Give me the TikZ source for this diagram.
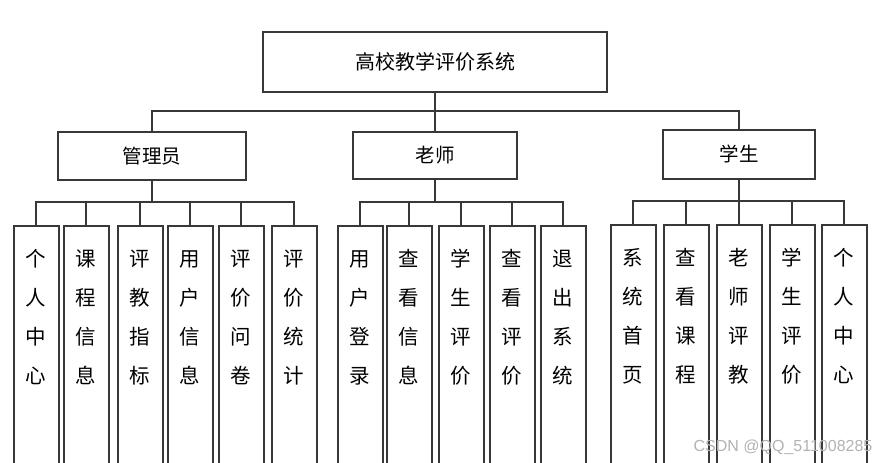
\documentclass[tikz,border=0pt]{standalone}
\usepackage{fontspec}
\newfontfamily\cjk{Noto Sans CJK SC}
\newfontfamily\wmfont{Liberation Sans}
\tikzset{
  box/.style={draw=black!78, line width=2pt, rectangle, inner sep=0pt,
    font=\cjk\fontsize{20pt}{24pt}\selectfont},
  leaf/.style={box, anchor=north, minimum width=45pt, text width=45pt,
    align=center, text height=40pt, text depth=250pt,
    font=\cjk\fontsize{20.5pt}{39pt}\selectfont},
  link/.style={draw=black!78, line width=2pt},
}
\begin{document}
\begin{tikzpicture}[x=1pt, y=-1pt]
  \clip (0,0) rectangle (878,463);
  % root and the three roles
  \node[box, minimum width=344pt, minimum height=60pt] (root) at (435,62) {高校教学评价系统};
  \node[box, minimum width=188pt, minimum height=48pt, font=\cjk\fontsize{19.5pt}{24pt}\selectfont] (admin) at (152,156) {管理员};
  \node[box, minimum width=164pt, minimum height=47pt, font=\cjk\fontsize{19.5pt}{24pt}\selectfont] (teacher) at (435,155) {老师};
  \node[box, minimum width=152pt, minimum height=49pt, font=\cjk\fontsize{19.5pt}{24pt}\selectfont] (student) at (739,154) {学生};

  \foreach \role in {admin, teacher, student} {
    \draw[link] (root.south) -- (435,111) -| (\role.north);
  }

  % admin functions
  \foreach \i/\x/\txt in {1/36/{个\\人\\中\\心}, 2/86/{课\\程\\信\\息},
      3/140/{评\\教\\指\\标}, 4/190/{用\\户\\信\\息},
      5/241/{评\\价\\问\\卷}, 6/294/{评\\价\\统\\计}} {
    \node[leaf] (a\i) at (\x,225) {\txt};
    \draw[link] (admin.south) |- (\x,202) -- (a\i.north);
  }

  % teacher functions
  \foreach \i/\x/\txt in {1/360/{用\\户\\登\\录}, 2/409/{查\\看\\信\\息},
      3/461/{学\\生\\评\\价}, 4/512/{查\\看\\评\\价},
      5/563/{退\\出\\系\\统}} {
    \node[leaf] (t\i) at (\x,225) {\txt};
    \draw[link] (teacher.south) |- (\x,202) -- (t\i.north);
  }

  % student functions
  \foreach \i/\x/\txt in {1/633/{系\\统\\首\\页}, 2/686/{查\\看\\课\\程},
      3/739/{老\\师\\评\\教}, 4/792/{学\\生\\评\\价},
      5/844/{个\\人\\中\\心}} {
    \node[leaf] (s\i) at (\x,224) {\txt};
    \draw[link] (student.south) |- (\x,201) -- (s\i.north);
  }

  \node[text=black!30, font=\wmfont\fontsize{16pt}{20pt}\selectfont] (mark) at (783,447) {CSDN @QQ\_511008285};
\end{tikzpicture}
\end{document}
